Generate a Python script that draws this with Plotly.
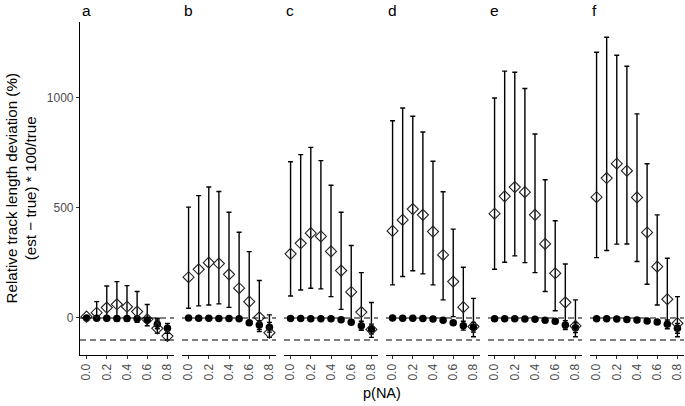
import plotly.graph_objects as go

p_na = [0.0, 0.1, 0.2, 0.3, 0.4, 0.5, 0.6, 0.7, 0.8]
tick_vals = [0.0, 0.2, 0.4, 0.6, 0.8]
tick_text = ["0.0", "0.2", "0.4", "0.6", "0.8"]
panels = ["a", "b", "c", "d", "e", "f"]

# open diamonds: mean, upper, lower
dia_mean = {
    "a": [6, 24, 47, 62, 51, 29, -6, -47, -82],
    "b": [185, 221, 251, 247, 198, 135, 74, 3, -67],
    "c": [291, 339, 385, 370, 302, 215, 118, 27, -52],
    "d": [395, 445, 494, 468, 392, 286, 165, 49, -39],
    "e": [473, 552, 594, 571, 468, 336, 203, 71, -36],
    "f": [548, 635, 700, 668, 547, 388, 233, 85, -24],
}
dia_hi = {
    "a": [10, 74, 145, 165, 147, 120, 61, -1, -40],
    "b": [503, 555, 594, 574, 480, 389, 301, 170, 14],
    "c": [709, 741, 774, 714, 602, 480, 329, 206, 70],
    "d": [895, 953, 915, 844, 711, 573, 403, 230, 89],
    "e": [998, 1120, 1115, 1041, 835, 627, 441, 245, 82],
    "f": [1206, 1274, 1192, 1142, 926, 700, 468, 271, 97],
}
dia_lo = {
    "a": [-3, -8, -12, -15, -15, -20, -35, -70, -100],
    "b": [44, 55, 59, 64, 48, 5, -24, -62, -88],
    "c": [100, 127, 135, 132, 97, 39, -23, -55, -88],
    "d": [150, 188, 214, 200, 150, 82, 6, -39, -85],
    "e": [221, 253, 282, 251, 206, 120, 33, -45, -85],
    "f": [274, 306, 335, 336, 256, 153, 59, -32, -85],
}
# filled circles: mean, symmetric error
cir_mean = {
    "a": [0, -1, -1, -2, -2, -3, -9, -29, -47],
    "b": [0, -1, -1, -2, -2, -4, -22, -32, -42],
    "c": [-2, -2, -3, -3, -4, -8, -19, -35, -50],
    "d": [0, -1, -1, -2, -5, -10, -22, -35, -42],
    "e": [-3, -3, -4, -5, -6, -10, -15, -32, -44],
    "f": [-4, -4, -5, -7, -9, -14, -18, -29, -47],
}
cir_err = [3, 3, 3, 4, 4, 5, 10, 20, 22]

fig = go.Figure()

L, R, T, B = 80, 1, 22, 51
W, H = 685, 406
pw = W - L - R
ph = H - T - B
panel_px = 94
period_px = 102.0

layout_axes = {}
annotations = []
shapes = []
for i, p in enumerate(panels):
    xa = "x" if i == 0 else f"x{i+1}"
    ya = "y" if i == 0 else f"y{i+1}"
    x0 = i * period_px / pw
    x1 = min((i * period_px + panel_px) / pw, 1.0)
    layout_axes[f"xaxis{'' if i == 0 else i+1}"] = dict(
        domain=[x0, x1], range=[-0.065, 0.865],
        tickvals=tick_vals, ticktext=tick_text, tickangle=-90,
        ticks="outside", ticklen=3, tickwidth=1, tickcolor="#333333",
        showline=True, linecolor="black", linewidth=1.2,
        showgrid=False, zeroline=False, automargin=False,
        tickfont=dict(size=12, color="#4D4D4D"), anchor=ya,
    )
    layout_axes[f"yaxis{'' if i == 0 else i+1}"] = dict(
        range=[-168, 1343], domain=[0, 1], anchor=xa,
        tickvals=[0, 500, 1000], ticktext=["0", "500", "1000"],
        showticklabels=(i == 0), ticks="outside" if i == 0 else "",
        ticklen=3, tickwidth=1, tickcolor="#333333",
        showline=(i == 0), linecolor="black", linewidth=1.2,
        showgrid=False, zeroline=False, automargin=False,
        tickfont=dict(size=12, color="#4D4D4D"),
    )
    for yv in (0, -100):
        shapes.append(dict(type="line", xref=f"{xa} domain", yref=ya,
                           x0=0, x1=1, y0=yv, y1=yv,
                           line=dict(color="black", width=1.2, dash="6px,4px")))
    annotations.append(dict(text=p, xref="paper", yref="paper",
                            x=x0, y=1, xanchor="left", yanchor="bottom",
                            yshift=1, showarrow=False,
                            font=dict(size=15.5, color="black")))

    cm = cir_mean[p]
    fig.add_trace(go.Scatter(
        x=p_na, y=cm, mode="markers", xaxis=xa, yaxis=ya,
        marker=dict(symbol="circle", size=7.5, color="black"),
        error_y=dict(type="data", array=cir_err, arrayminus=cir_err,
                     color="black", thickness=1.4, width=2.5),
        showlegend=False))
    dm = dia_mean[p]
    fig.add_trace(go.Scatter(
        x=p_na, y=dm, mode="markers", xaxis=xa, yaxis=ya,
        marker=dict(symbol="diamond-open", size=8.5, color="#222222",
                    line=dict(width=1.1)),
        error_y=dict(type="data",
                     array=[h - m for h, m in zip(dia_hi[p], dm)],
                     arrayminus=[m - l for m, l in zip(dm, dia_lo[p])],
                     color="black", thickness=1.4, width=2.5),
        showlegend=False))

annotations.append(dict(
    text="Relative track length deviation (%)<br>(est − true) * 100/true",
    xref="paper", yref="paper", x=-(L - 21) / pw, y=0.5,
    xanchor="center", yanchor="middle", textangle=-90, showarrow=False,
    font=dict(size=15.2, color="black")))
annotations.append(dict(
    text="p(NA)", xref="paper", yref="paper", x=0.5,
    y=-(393 - (H - B)) / ph,
    xanchor="center", yanchor="middle", showarrow=False,
    font=dict(size=14.5, color="black")))

fig.update_layout(
    width=W, height=H, margin=dict(l=L, r=R, t=T, b=B, autoexpand=False),
    paper_bgcolor="white", plot_bgcolor="white",
    font=dict(family="Liberation Sans, Arial, sans-serif"),
    annotations=annotations, shapes=shapes, **layout_axes)

fig.write_html("out.html", config={"displayModeBar": False},
               post_script="document.body.style.margin='0';document.body.style.overflow='hidden';")
